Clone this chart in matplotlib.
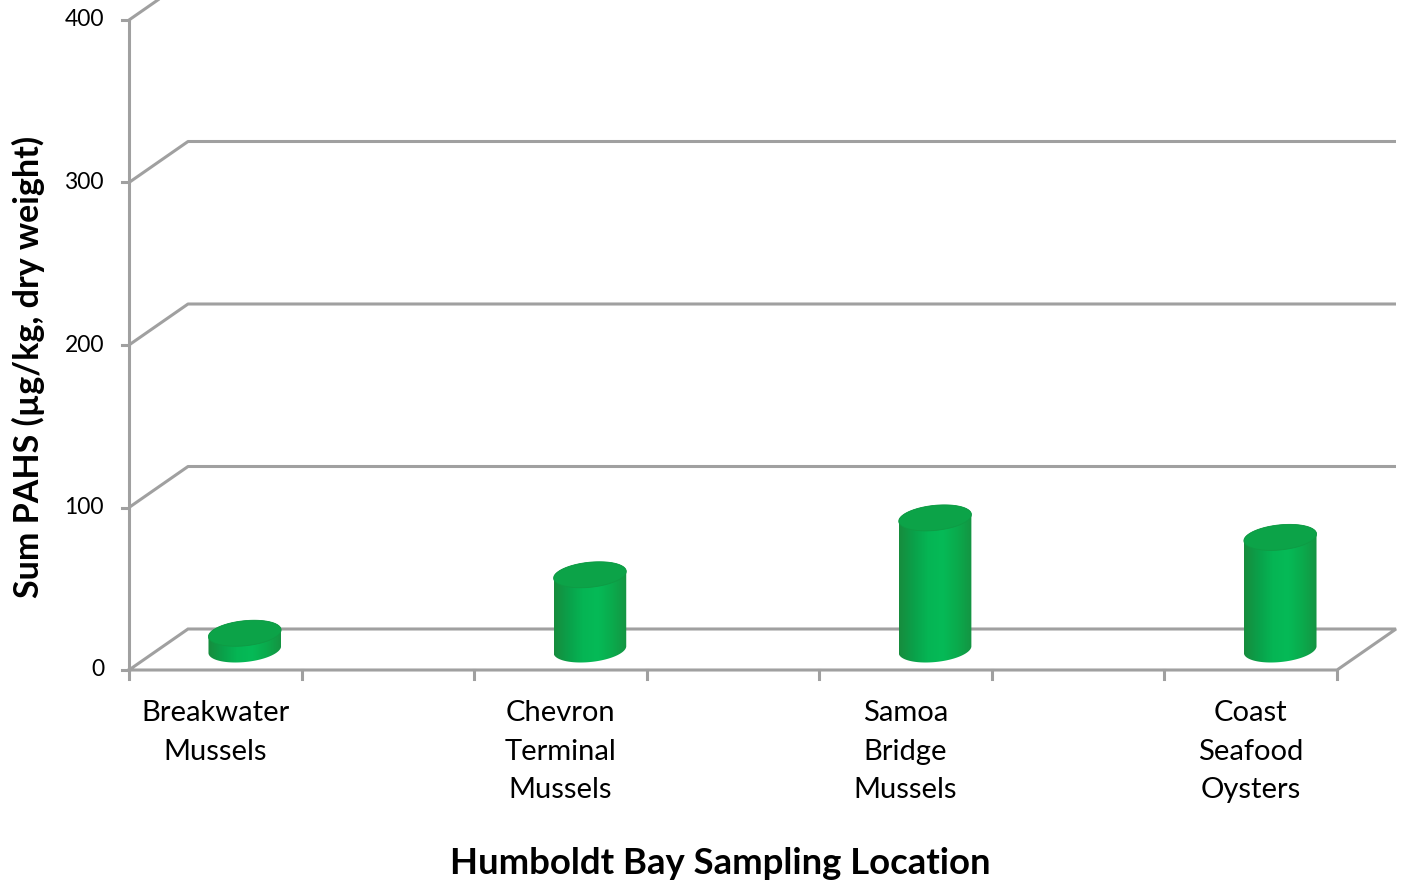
import numpy as np
import matplotlib.pyplot as plt
from matplotlib.patches import Polygon

# ----- данные -----
locations = ["Breakwater\nMussels", "Chevron\nTerminal\nMussels",
             "Samoa\nBridge\nMussels", "Coast\nSeafood\nOysters"]
sum_pahs = [10, 46, 81, 69]
y_ticks = [0, 100, 200, 300, 400]
n_slots = 7  # excel category slots, blank slots between locations

plt.rcParams['font.family'] = ['Lato', 'DejaVu Sans']

W, H = 1415, 888
fig = plt.figure(figsize=(W / 100, H / 100), dpi=100)
ax = fig.add_axes([0, 0, 1, 1])

# pixel scales of the front plane
x0_px, y0_px = 129, 670
sx = (1337 - x0_px) / n_slots      # px per slot
sy = 650 / 400                      # px per value unit
ax.axis('off')

# depth offset of the back wall
ddx = 59 / sx
ddy = 41 / sy

grid_col = '#a0a0a0'
lw = 2.2

# back wall gridlines
for v in y_ticks[1:]:
    ax.plot([0, ddx, n_slots + ddx], [v, v + ddy, v + ddy],
            color=grid_col, lw=lw, zorder=1, solid_capstyle='butt')

# floor
ax.plot([0, ddx, n_slots + ddx, n_slots, 0], [0, ddy, ddy, 0, 0],
        color=grid_col, lw=lw, zorder=1, solid_joinstyle='miter')

# y axis and ticks
ax.plot([0, 0], [0, y_ticks[-1]], color=grid_col, lw=lw, zorder=2)
for v in y_ticks:
    ax.plot([-7 / sx, 0], [v, v], color=grid_col, lw=lw, zorder=2)
    ax.text(-25 / sx, v, str(v), ha='right', va='center', fontsize=16.5,
            color='black')

# x ticks
for k in range(n_slots + 1):
    ax.plot([k, k], [0, -9 / sy], color=grid_col, lw=lw, zorder=2)


# ----- цилиндры -----
def ellipse_pts(cx, cy, t):
    a, b, th = 36.5, 12.5, np.deg2rad(6)
    ex = a * np.cos(t)
    ey = b * np.sin(t)
    px = ex * np.cos(th) - ey * np.sin(th)
    py = ex * np.sin(th) + ey * np.cos(th)
    return cx + px / sx, cy + py / sy


grad_cols = np.array([
    [0.09, 0.55, 0.24],
    [0.04, 0.63, 0.29],
    [0.02, 0.71, 0.33],
    [0.02, 0.73, 0.34],
    [0.04, 0.67, 0.30],
    [0.08, 0.58, 0.26],
])
xs = np.linspace(0, 1, 200)
grad = np.stack([np.interp(xs, np.linspace(0, 1, len(grad_cols)), grad_cols[:, c])
                 for c in range(3)], axis=-1)[None, :, :]

for i, val in enumerate(sum_pahs):
    slot = 2 * i + 0.5
    cx = slot + ddx / 2
    base = ddy / 2
    top = val + ddy / 2

    tx, ty = ellipse_pts(cx, top, np.linspace(0, np.pi, 60))
    bx, by = ellipse_pts(cx, base, np.linspace(np.pi, 2 * np.pi, 60))
    body = Polygon(np.column_stack([np.r_[tx, bx], np.r_[ty, by]]),
                   closed=True, facecolor='none', edgecolor='none', zorder=3)
    ax.add_patch(body)
    xmin, xmax = min(tx.min(), bx.min()), max(tx.max(), bx.max())
    ymin, ymax = by.min(), ty.max()
    im = ax.imshow(grad, extent=[xmin, xmax, ymin, ymax], aspect='auto',
                   zorder=3, interpolation='bilinear')
    im.set_clip_path(body)

    ex, ey = ellipse_pts(cx, top, np.linspace(0, 2 * np.pi, 120))
    ax.add_patch(Polygon(np.column_stack([ex, ey]), closed=True,
                         facecolor='#0ca348', edgecolor='#0f9a44',
                         lw=0.6, zorder=4))

    ax.text(slot, -30 / sy, locations[i], ha='center', va='top',
            fontsize=21, linespacing=1.6, color='black')

ax.set_xlim(-x0_px / sx, (W - x0_px) / sx)
ax.set_ylim((y0_px - H) / sy, y0_px / sy)

# подписи осей
fig.text(720 / W, 1 - 863 / H, "Humboldt Bay Sampling Location",
         ha='center', va='center', fontsize=26.3, fontweight='bold')
fig.text(28 / W, 1 - 367 / H, "Sum PAHS (\u00b5g/kg, dry weight)",
         ha='center', va='center', rotation=90, fontsize=24.5,
         fontweight='bold')

fig.savefig("out.png", dpi=100)
